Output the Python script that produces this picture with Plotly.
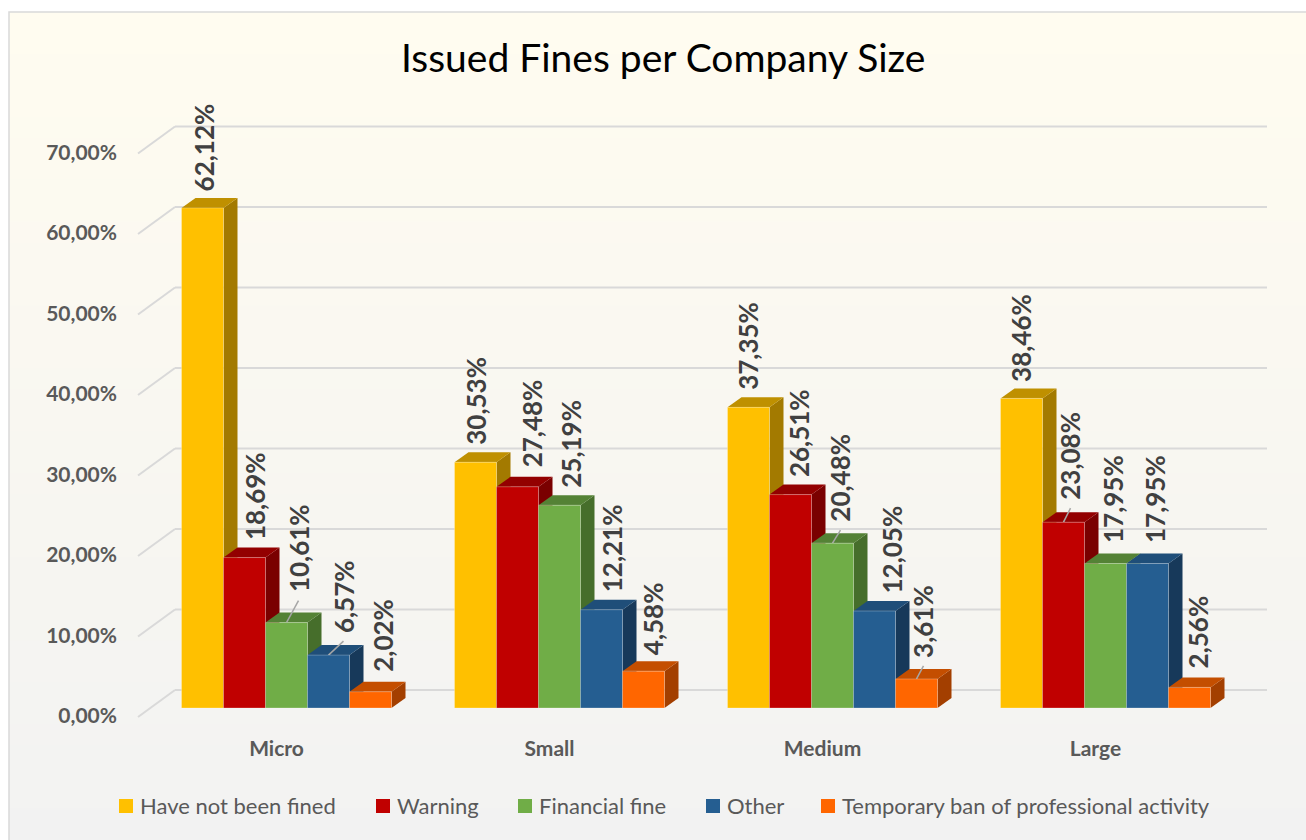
import plotly.graph_objects as go

# ---- data -------------------------------------------------------------
categories = ["Micro", "Small", "Medium", "Large"]
series_names = [
    "Have not been fined",
    "Warning",
    "Financial fine",
    "Other",
    "Temporary ban of professional activity",
]
not_fined = [62.12, 30.53, 37.35, 38.46]
warning = [18.69, 27.48, 26.51, 23.08]
financial_fine = [10.61, 25.19, 20.48, 17.95]
other = [6.57, 12.21, 12.05, 17.95]
temporary_ban = [2.02, 4.58, 3.61, 2.56]
y_ticks = [0, 10, 20, 30, 40, 50, 60, 70]

series_values = [not_fined, warning, financial_fine, other, temporary_ban]

# ---- style ------------------------------------------------------------
FONT = "Lato"
front_colors = ["#FFC000", "#C00000", "#70AD47", "#255E91", "#FF6600"]
top_colors = ["#BF9000", "#930000", "#548235", "#1F4E79", "#C44E00"]
side_colors = ["#A37A00", "#7A0000", "#466E2B", "#17395A", "#A33F00"]

# per-label placement tweaks (pixels): horizontal shift and lift above bar top
label_dx = [
    [1, 1, 0, 0],
    [10, 14, 8, 7],
    [12, 12, 8, 7],
    [15, 10, 17, 7],
    [13, 9, 7, 8],
]
label_lift = [
    [14, 15, 15, 14],
    [15, 17, 15, 20],
    [28, 15, 19, 18],
    [20, 15, 15, 18],
    [18, 14, 19, 17],
]
# labels that were pulled away from their bar get a leader line
leader = {(2, 0), (3, 0), (2, 2), (4, 2), (1, 3)}

W, H = 1306, 840
PLOT_L, PLOT_R, PLOT_T, PLOT_B = 128, 1282, 100, 726
PX_PER_CAT = 273.0          # width of one category band
CAT0_PX = 286.5             # centre of the first category band
ZERO_PX = 708.0             # baseline of the bar front faces
PX_PER_UNIT = 8.05          # pixels per percentage point

x_range = [(PLOT_L - CAT0_PX) / PX_PER_CAT, (PLOT_R - CAT0_PX) / PX_PER_CAT]
y_range = [-(PLOT_B - ZERO_PX) / PX_PER_UNIT, (ZERO_PX - PLOT_T) / PX_PER_UNIT]

BARGAP = 1 - 210 / PX_PER_CAT
n_series = len(series_values)
bar_w = (1 - BARGAP) / n_series

# depth of the bars and of the chart box, in pixels
BAR_DX, BAR_DY = 14, 10
WALL_DX, WALL_DY = 25, 18
FLOOR_DX, FLOOR_DY = -12, -9


def ux(px):
    """pixel distance along x -> data units"""
    return px / PX_PER_CAT


def uy(px):
    """pixel distance along y -> data units"""
    return px / PX_PER_UNIT


def paper_x(px):
    return (px - PLOT_L) / (PLOT_R - PLOT_L)


def paper_y(py):
    return (PLOT_B - py) / (PLOT_B - PLOT_T)


def fmt(v):
    return f"{v:.2f}".replace(".", ",") + "%"


shapes = []
annotations = []

# chart background: soft vertical gradient inside a thin frame
top_rgb = (255, 252, 240)
bot_rgb = (242, 242, 242)
FRAME_T, FRAME_L = 12, 9
n_strips = 80
strip_h = (H + 10 - FRAME_T) / n_strips
for i in range(n_strips):
    t = i / (n_strips - 1)
    c = tuple(round(a + (b - a) * t) for a, b in zip(top_rgb, bot_rgb))
    y_top = FRAME_T + i * strip_h
    shapes.append(dict(
        type="rect", xref="paper", yref="paper", layer="below",
        x0=paper_x(FRAME_L), x1=paper_x(W + 10),
        y0=paper_y(y_top), y1=paper_y(y_top + strip_h + 1),
        fillcolor=f"rgb{c}", line=dict(width=0),
    ))
shapes.append(dict(
    type="rect", xref="paper", yref="paper", layer="below",
    x0=paper_x(FRAME_L), x1=paper_x(W + 20),
    y0=paper_y(FRAME_T), y1=paper_y(H + 20),
    fillcolor="rgba(0,0,0,0)", line=dict(color="#D9D9D9", width=1.5),
))

# back-wall gridlines plus their diagonal on the side wall
wall_left = -0.5 + ux(WALL_DX)
wall_right = 3.5 + ux(WALL_DX)
floor_left = -0.5 + ux(FLOOR_DX)
for v in y_ticks:
    yb = v + uy(WALL_DY)
    shapes.append(dict(
        type="line", xref="x", yref="y", layer="below",
        x0=wall_left, x1=wall_right, y0=yb, y1=yb,
        line=dict(color="#D9D9D9", width=2),
    ))
    shapes.append(dict(
        type="line", xref="x", yref="y", layer="below",
        x0=floor_left, y0=v + uy(FLOOR_DY), x1=wall_left, y1=yb,
        line=dict(color="#D9D9D9", width=2),
    ))

# side and top faces of each bar (front faces are the bar traces)
for c in range(len(categories)):
    for s in range(n_series):
        v = series_values[s][c]
        xl = c - (1 - BARGAP) / 2 + s * bar_w
        xr = xl + bar_w
        dx, dy = ux(BAR_DX), uy(BAR_DY)
        shapes.append(dict(
            type="path", xref="x", yref="y", layer="below",
            path=f"M{xr},0 L{xr + dx},{dy} L{xr + dx},{v + dy} L{xr},{v} Z",
            fillcolor=side_colors[s], line=dict(width=0),
        ))
        shapes.append(dict(
            type="path", xref="x", yref="y", layer="below",
            path=f"M{xl},{v} L{xl + dx},{v + dy} L{xr + dx},{v + dy} L{xr},{v} Z",
            fillcolor=top_colors[s], line=dict(width=0),
        ))

# value labels (rotated) and leader lines
for c in range(len(categories)):
    for s in range(n_series):
        v = series_values[s][c]
        xc = c - (1 - BARGAP) / 2 + (s + 0.5) * bar_w
        dxp, lift = label_dx[s][c], label_lift[s][c]
        annotations.append(dict(
            x=xc, y=v, xref="x", yref="y", text=fmt(v), showarrow=False,
            textangle=-90, xanchor="center", yanchor="bottom",
            xshift=dxp, yshift=lift,
            font=dict(family=FONT, size=26, color="#404040", weight="bold"),
        ))
        if (s, c) in leader:
            shapes.append(dict(
                type="line", xref="x", yref="y", layer="below",
                x0=xc, y0=v, x1=xc + ux(dxp), y1=v + uy(lift - 6),
                line=dict(color="#A6A6A6", width=1.5),
            ))

fig = go.Figure()
for s in range(n_series):
    fig.add_trace(go.Bar(
        x=list(range(len(categories))), y=series_values[s], name=series_names[s],
        marker=dict(color=front_colors[s], line=dict(color="rgba(255,255,255,0.25)", width=1)),
        hoverinfo="name+y",
    ))

# title
annotations.append(dict(
    x=paper_x(663), y=paper_y(57), xref="paper", yref="paper",
    text="Issued Fines per Company Size", showarrow=False,
    xanchor="center", yanchor="middle",
    font=dict(family=FONT, size=39, color="#000000"),
))

# legend row
legend_x = [119, 376, 518, 706, 821]
LEG_Y = 806
for s in range(n_series):
    shapes.append(dict(
        type="rect", xref="paper", yref="paper", layer="above",
        x0=paper_x(legend_x[s]), x1=paper_x(legend_x[s] + 14),
        y0=paper_y(LEG_Y - 7), y1=paper_y(LEG_Y + 7),
        fillcolor=front_colors[s], line=dict(width=0),
    ))
    annotations.append(dict(
        x=paper_x(legend_x[s] + 19), y=paper_y(LEG_Y), xref="paper", yref="paper",
        text=series_names[s], showarrow=False, xanchor="left", yanchor="middle",
        font=dict(family=FONT, size=22, color="#595959"),
    ))

fig.update_layout(
    width=W, height=H,
    margin=dict(l=PLOT_L, r=W - PLOT_R, t=PLOT_T, b=H - PLOT_B, autoexpand=False),
    paper_bgcolor="#FFFFFF",
    plot_bgcolor="rgba(0,0,0,0)",
    barmode="group", bargap=BARGAP, bargroupgap=0,
    separators=", ",
    showlegend=False,
    shapes=shapes,
    annotations=annotations,
    xaxis=dict(
        range=x_range, tickvals=list(range(len(categories))), ticktext=categories,
        showgrid=False, zeroline=False, showline=False, ticks="",
        ticklabelshift=-10, ticklabelstandoff=8,
        tickfont=dict(family=FONT, size=21, color="#595959", weight="bold"),
        fixedrange=True,
    ),
    yaxis=dict(
        range=y_range, tickvals=y_ticks, ticktext=[fmt(v) for v in y_ticks],
        showgrid=False, zeroline=False, showline=False, ticks="",
        ticklabelshift=8, ticklabelstandoff=10,
        tickfont=dict(family=FONT, size=21, color="#595959", weight="bold"),
        fixedrange=True,
    ),
)

fig.write_html("out.html")
